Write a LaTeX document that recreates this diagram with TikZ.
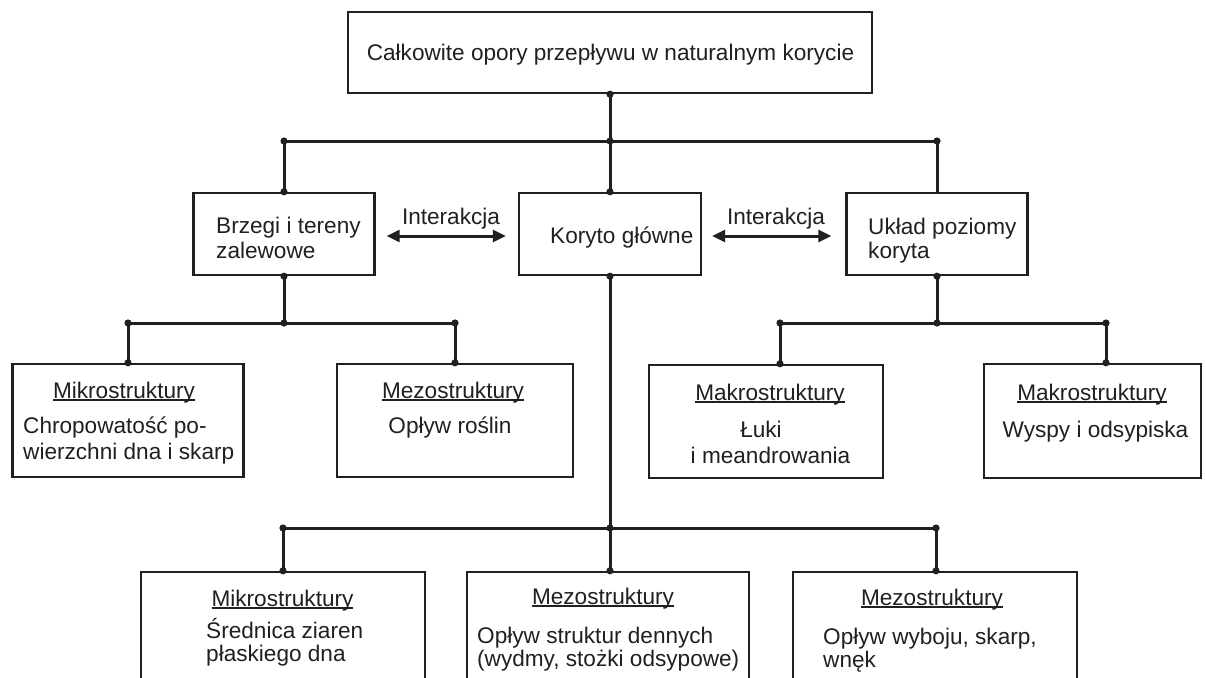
\documentclass[tikz,border=0pt]{standalone}
\usepackage{fontspec}
\setmainfont{Liberation Sans}
\usetikzlibrary{arrows.meta}
\definecolor{ink}{HTML}{231F20}
\newcommand{\myul}[1]{\setbox0\hbox{#1}\rlap{\rule[-2.8pt]{\wd0}{1.4pt}}\box0}
\tikzset{
  box/.style={draw=ink, line width=2.4pt, fill=white, inner sep=0pt, anchor=center},
  conn/.style={draw=ink, line width=3pt},
  iarrow/.style={draw=ink, line width=3pt, {Triangle[length=13pt,width=12pt]}-{Triangle[length=13pt,width=12pt]}},
  txt/.style={text=ink, inner sep=0pt, font=\fontsize{22.6}{26}\selectfont},
}
\begin{document}
\begin{tikzpicture}[x=1pt,y=-1pt]
\clip (0,0) rectangle (1206,677);
\fill[white] (0,0) rectangle (1206,677);
% boxes
\node[box, minimum width=524pt, minimum height=81pt] (top) at (610,52.5) {};
\node[box, minimum width=181pt, minimum height=82pt] (brz) at (284,234) {};
\node[box, minimum width=182pt, minimum height=82pt] (kor) at (610,234) {};
\node[box, minimum width=181pt, minimum height=82pt] (uk) at (937,234) {};
\node[box, minimum width=231pt, minimum height=113pt] (mik1) at (128,420.5) {};
\node[box, minimum width=236pt, minimum height=113pt] (mez1) at (455,420.5) {};
\node[box, minimum width=234pt, minimum height=113pt] (mak1) at (766,421.5) {};
\node[box, minimum width=217pt, minimum height=114pt] (mak2) at (1092.5,421) {};
\node[box, minimum width=284pt, minimum height=128pt] (mik2) at (283,636) {};
\node[box, minimum width=282pt, minimum height=128pt] (mez2) at (608,636) {};
\node[box, minimum width=284pt, minimum height=128pt] (mez3) at (935,636) {};
% junction coordinates
\coordinate (h0) at (610,141);
\coordinate (hL) at (284,141);
\coordinate (hR) at (937,141);
\coordinate (h1) at (284,323);
\coordinate (h1L) at (128,323);
\coordinate (h1R) at (455,323);
\coordinate (h2) at (937,323);
\coordinate (h2L) at (780,323);
\coordinate (h2R) at (1106,323);
\coordinate (h3) at (610,528);
\coordinate (h3L) at (283,528);
\coordinate (h3R) at (936,528);
% connectors
\draw[conn] (top.south) -- (h0) -- (kor.north);
\draw[conn] (hL) -- (hR);
\draw[conn] (hL) -- (brz.north);
\draw[conn] (hR) -- (uk.north);
\draw[conn] (brz.south) -- (h1);
\draw[conn] (h1L) -- (h1R);
\draw[conn] (h1L) -- (mik1.north);
\draw[conn] (h1R) -- (mez1.north);
\draw[conn] (uk.south) -- (h2);
\draw[conn] (h2L) -- (h2R);
\draw[conn] (h2L) -- (h2L |- mak1.north);
\draw[conn] (h2R) -- (h2R |- mak2.north);
\draw[conn] (kor.south) -- (h3);
\draw[conn] (h3L) -- (h3R);
\draw[conn] (h3L) -- (mik2.north);
\draw[conn] (h3) -- (h3 |- mez2.north);
\draw[conn] (h3R) -- (h3R |- mez3.north);
% dots
\foreach \p in {top.south, h0, hL, hR, brz.north, kor.north, brz.south, kor.south, uk.south,
  h1, h1L, h1R, mik1.north, mez1.north, h2, h2L, h2R, h2L |- mak1.north, h2R |- mak2.north,
  h3, h3L, h3R, mik2.north, h3 |- mez2.north, h3R |- mez3.north}
  \fill[ink] (\p) circle (3.6pt);
% interaction arrows
\draw[iarrow] ([xshift=11pt,yshift=-2pt]brz.east) -- ([xshift=-12pt,yshift=-2pt]kor.west);
\draw[iarrow] ([xshift=10pt,yshift=-2pt]kor.east) -- ([xshift=-14pt,yshift=-2pt]uk.west);
\node[txt, anchor=base] (int1) at (451,224) {Interakcja};
\node[txt, anchor=base] (int2) at (776,224) {Interakcja};
% texts
\node[txt, anchor=base] (ttop) at (610.5,60) {Całkowite opory przepływu w naturalnym korycie};
\node[txt, anchor=base west] (tbrz1) at (216,233) {Brzegi i tereny};
\node[txt, anchor=base west] (tbrz2) at (216,258) {zalewowe};
\node[txt, anchor=base west] (tkor) at (550,243) {Koryto główne};
\node[txt, anchor=base west] (tuk1) at (868,234) {Układ poziomy};
\node[txt, anchor=base west] (tuk2) at (868,258) {koryta};
% level 3
\node[txt, anchor=base] (tmik1) at (124,398) {\myul{Mikrostruktury}};
\node[txt, anchor=base west] (tmik1a) at (23,433) {Chropowatość po-};
\node[txt, anchor=base west] (tmik1b) at (23,459) {wierzchni dna i skarp};
\node[txt, anchor=base] (tmez1) at (453,398) {\myul{Mezostruktury}};
\node[txt, anchor=base] (tmez1a) at (450,433) {Opływ roślin};
\node[txt, anchor=base] (tmak1) at (770,400) {\myul{Makrostruktury}};
\node[txt, anchor=base] (tmak1a) at (761,437) {Łuki};
\node[txt, anchor=base] (tmak1b) at (770.5,463) {i meandrowania};
\node[txt, anchor=base] (tmak2) at (1092,400) {\myul{Makrostruktury}};
\node[txt, anchor=base] (tmak2a) at (1095.5,437) {Wyspy i odsypiska};
% level 4
\node[txt, anchor=base] (tmik2) at (282.5,606) {\myul{Mikrostruktury}};
\node[txt, anchor=base west] (tmik2a) at (206,638) {Średnica ziaren};
\node[txt, anchor=base west] (tmik2b) at (206,661) {płaskiego dna};
\node[txt, anchor=base] (tmez2) at (603,604) {\myul{Mezostruktury}};
\node[txt, anchor=base west] (tmez2a) at (477,643) {Opływ struktur dennych};
\node[txt, anchor=base west] (tmez2b) at (477,666) {(wydmy, stożki odsypowe)};
\node[txt, anchor=base] (tmez3) at (932,605) {\myul{Mezostruktury}};
\node[txt, anchor=base west] (tmez3a) at (823,644) {Opływ wyboju, skarp,};
\node[txt, anchor=base west] (tmez3b) at (823,667) {wnęk};
\end{tikzpicture}
\end{document}
